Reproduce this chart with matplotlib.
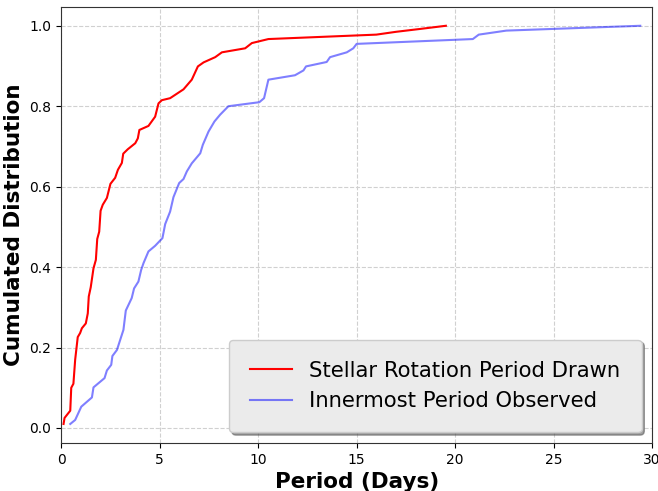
import matplotlib
matplotlib.use("Agg")
import matplotlib.pyplot as plt

red_x = [0.12, 0.17, 0.46, 0.51, 0.62, 0.71, 0.84, 0.96, 1.05, 1.25, 1.35, 1.40, 1.50, 1.64, 1.76,
         1.83, 1.93, 2.00, 2.11, 2.32, 2.50, 2.74, 2.88, 3.08, 3.15, 3.38, 3.76, 3.89, 3.97, 4.43,
         4.77, 4.94, 5.11, 5.53, 6.21, 6.63, 6.94, 7.23, 7.82, 8.16, 9.34, 9.68, 10.52, 16.0, 17.0,
         18.2, 19.53]
red_y = [0.01, 0.025, 0.043, 0.10, 0.11, 0.17, 0.226, 0.236, 0.248, 0.26, 0.285, 0.327, 0.35, 0.397,
         0.418, 0.47, 0.488, 0.54, 0.555, 0.572, 0.607, 0.622, 0.642, 0.659, 0.682, 0.693, 0.708,
         0.72, 0.741, 0.751, 0.774, 0.807, 0.815, 0.82, 0.842, 0.866, 0.899, 0.909, 0.922, 0.934,
         0.944, 0.957, 0.967, 0.978, 0.985, 0.992, 1.0]

blue_x = [0.46, 0.71, 1.02, 1.56, 1.64, 2.20, 2.32, 2.54, 2.60, 2.83, 3.16, 3.28, 3.58, 3.70, 3.92,
          4.06, 4.18, 4.43, 4.77, 5.14, 5.28, 5.53, 5.70, 5.99, 6.21, 6.38, 6.63, 7.06, 7.19, 7.48,
          7.78, 8.07, 8.49, 10.06, 10.30, 10.52, 11.87, 12.30, 12.43, 13.48, 13.65, 14.50, 14.83,
          15.0, 20.9, 21.2, 22.6, 29.4]
blue_y = [0.01, 0.02, 0.053, 0.076, 0.101, 0.124, 0.143, 0.157, 0.179, 0.194, 0.244, 0.292, 0.323,
          0.347, 0.364, 0.393, 0.41, 0.439, 0.453, 0.472, 0.507, 0.538, 0.574, 0.609, 0.619, 0.638,
          0.658, 0.683, 0.704, 0.737, 0.762, 0.779, 0.80, 0.81, 0.82, 0.866, 0.877, 0.889, 0.899,
          0.910, 0.922, 0.934, 0.944, 0.955, 0.967, 0.978, 0.988, 1.0]

labels = ["Stellar Rotation Period Drawn", "Innermost Period Observed"]

fig, ax = plt.subplots(figsize=(6.58, 4.91), dpi=100)
ax.plot(red_x, red_y, color="red", lw=1.5, label=labels[0])
ax.plot(blue_x, blue_y, color="blue", alpha=0.5, lw=1.5, label=labels[1])
ax.set_xlim(0, 30)
ax.set_ylim(-0.037, 1.047)
ax.set_xticks([0, 5, 10, 15, 20, 25, 30])
ax.set_yticks([0.0, 0.2, 0.4, 0.6, 0.8, 1.0])
ax.grid(True, linestyle="--", color="#d0d0d0", lw=0.8)
ax.set_xlabel("Period (Days)", fontsize=15.5, fontweight="bold")
ax.set_ylabel("Cumulated Distribution", fontsize=15.5, fontweight="bold")
for s in ax.spines.values():
    s.set_color("#333333")
leg = ax.legend(loc="lower right", fontsize=15.2, shadow=True, fancybox=True,
                facecolor="#ebebeb", framealpha=1.0, edgecolor="#cccccc",
                borderpad=1.0, handlelength=2.0, handletextpad=0.8)
fig.subplots_adjust(left=0.093, right=0.991, top=0.986, bottom=0.098)
fig.savefig("out.png", dpi=100)
